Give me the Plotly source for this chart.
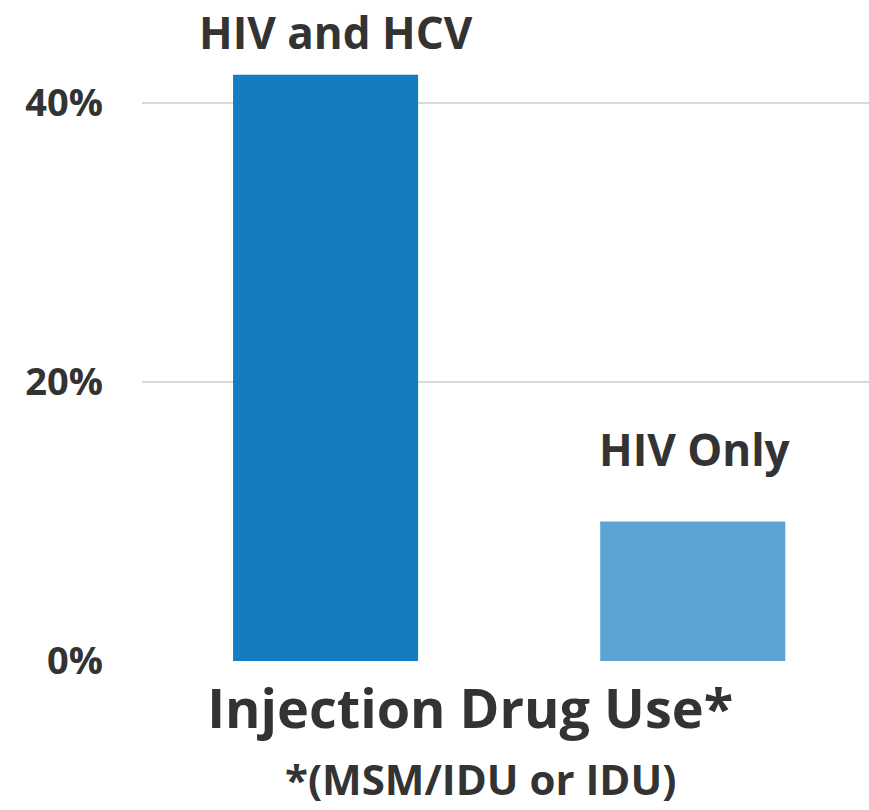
import plotly.graph_objects as go

series_names = ["HIV and HCV", "HIV Only"]
series_values = [42, 10]
series_colors = ["#157CC0", "#5BA4D4"]
category = "Injection Drug Use*"
footnote = "*(MSM/IDU or IDU)"
y_ticks = [0, 20, 40]
y_tick_labels = ["0%", "20%", "40%"]
label_yshift = [11, 40]
label_xshift = [10, 2]

fig = go.Figure()
for name, val, col in zip(series_names, series_values, series_colors):
    fig.add_trace(go.Bar(x=[category], y=[val], name=name, marker_color=col,
                         marker_line_width=0, showlegend=False))

n = len(series_names)
for i, (name, val, sy, sx) in enumerate(zip(series_names, series_values, label_yshift, label_xshift)):
    fig.add_annotation(x=category, y=val, xref="x", yref="y",
                       text="<b>%s</b>" % name, showarrow=False,
                       xshift=(i - (n - 1) / 2) * 367 + sx,
                       yanchor="bottom", yshift=sy,
                       font=dict(family="Open Sans", size=44, color="#333333"))

fig.add_annotation(x=0.5, y=-0.187, xref="paper", yref="paper",
                   text="<b>%s</b>" % footnote, showarrow=False,
                   yanchor="middle", xshift=-25,
                   font=dict(family="Open Sans", size=42, color="#333333"))

fig.update_layout(
    width=869, height=810,
    margin=dict(l=142, r=0, t=33, b=149, pad=0),
    paper_bgcolor="white", plot_bgcolor="white",
    barmode="group", bargap=0.0, bargroupgap=0.496,
    xaxis=dict(showgrid=False, showline=False, zeroline=False,
               range=[-0.5, 0.49],
               tickfont=dict(family="Open Sans", size=54, color="#333333"),
               ticks="", tickvals=[category], ticktext=["<b>%s</b>" % category],
               ticklabelshift=-39, ticklabelstandoff=12),
    yaxis=dict(range=[0, 45], tickvals=y_ticks, ticktext=["<b>%s</b>" % t for t in y_tick_labels],
               showgrid=True, gridcolor="#D9D9D9", gridwidth=2,
               zeroline=False, showline=False, ticks="",
               ticklabelstandoff=38,
               tickfont=dict(family="Open Sans", size=38, color="#333333")),
)

fig.write_html("out.html")
